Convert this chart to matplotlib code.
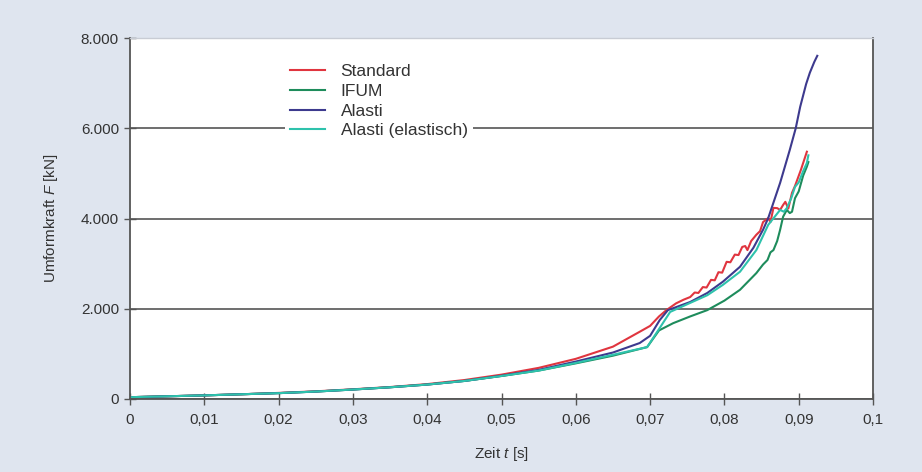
import matplotlib
matplotlib.use("Agg")
import matplotlib.pyplot as plt

plt.rcParams['font.family'] = ['Liberation Sans', 'DejaVu Sans']
plt.rcParams['mathtext.fontset'] = 'custom'
plt.rcParams['mathtext.rm'] = 'Liberation Sans'
plt.rcParams['mathtext.it'] = 'Liberation Sans:italic'

#---------------------------------------------------------------------------------------------------
# data (time in s, force in kN)

t_standard = [0, 0.005, 0.01, 0.015, 0.02, 0.025, 0.03, 0.035, 0.04, 0.045, 0.05, 0.055,
              0.06, 0.065, 0.0686, 0.07, 0.0712, 0.0722, 0.0735, 0.0745, 0.0754, 0.076,
              0.0765, 0.0771, 0.0776, 0.0782, 0.0787, 0.0792, 0.0797, 0.0803, 0.0808, 0.0814,
              0.0819, 0.0824, 0.0828, 0.0831, 0.0836, 0.0843, 0.0848, 0.0852, 0.0859, 0.0862,
              0.0866, 0.0871, 0.0875, 0.0879, 0.0882, 0.0886, 0.0891, 0.0895, 0.0903, 0.0911]
f_standard = [40, 60, 80, 105, 135, 170, 215, 265, 330, 420, 540, 690,
              890, 1160, 1490, 1620, 1830, 1970, 2120, 2200, 2260, 2360,
              2350, 2480, 2470, 2640, 2630, 2810, 2800, 3040, 3030, 3200,
              3190, 3370, 3390, 3300, 3500, 3640, 3720, 3920, 4010, 3920,
              4235, 4230, 4190, 4300, 4370, 4220, 4570, 4720, 5080, 5480]

t_ifum = [0, 0.005, 0.01, 0.015, 0.02, 0.025, 0.03, 0.035, 0.04, 0.045, 0.05, 0.055,
          0.06, 0.065, 0.0696, 0.0712, 0.0731, 0.0754, 0.0777, 0.08, 0.0821, 0.0843,
          0.0852, 0.0858, 0.0862, 0.0866, 0.0871, 0.0875, 0.0879, 0.0884, 0.0888, 0.0891,
          0.0895, 0.09, 0.0906, 0.0911, 0.0913]
f_ifum = [40, 60, 80, 105, 130, 165, 210, 260, 320, 400, 510, 630,
          790, 960, 1150, 1520, 1680, 1830, 1970, 2180, 2420, 2790,
          2980, 3080, 3250, 3300, 3500, 3750, 4040, 4190, 4120, 4150,
          4450, 4600, 4950, 5150, 5250]

t_alasti = [0, 0.005, 0.01, 0.015, 0.02, 0.025, 0.03, 0.035, 0.04, 0.045, 0.05, 0.055,
            0.06, 0.065, 0.0686, 0.07, 0.0713, 0.0724, 0.0754, 0.0777, 0.0798, 0.0821,
            0.0839, 0.0852, 0.0859, 0.0875, 0.0888, 0.0896, 0.0902, 0.091, 0.0915, 0.0921,
            0.0925]
f_alasti = [40, 60, 80, 105, 130, 165, 210, 260, 320, 400, 515, 645,
            830, 1030, 1240, 1400, 1750, 1970, 2150, 2350, 2600, 2930,
            3350, 3750, 4010, 4790, 5520, 6000, 6475, 6980, 7230, 7470,
            7605]

t_elastisch = [0, 0.005, 0.01, 0.015, 0.02, 0.025, 0.03, 0.035, 0.04, 0.045, 0.05, 0.055,
               0.06, 0.065, 0.0696, 0.0712, 0.0727, 0.0754, 0.0777, 0.0798, 0.0821, 0.0843,
               0.0859, 0.0875, 0.088, 0.0884, 0.089, 0.0895, 0.09, 0.0906, 0.0911, 0.0913]
f_elastisch = [40, 60, 80, 105, 130, 165, 210, 260, 320, 400, 510, 630,
               800, 980, 1150, 1550, 1930, 2130, 2300, 2530, 2820, 3300,
               3860, 4190, 4150, 4230, 4450, 4700, 4800, 5050, 5230, 5400]

series = [
    ("Standard", t_standard, f_standard, "#e0353f"),
    ("IFUM", t_ifum, f_ifum, "#1e8c5c"),
    ("Alasti", t_alasti, f_alasti, "#3d3a8e"),
    ("Alasti (elastisch)", t_elastisch, f_elastisch, "#2ec2ac"),
]

x_ticks = [0, 0.01, 0.02, 0.03, 0.04, 0.05, 0.06, 0.07, 0.08, 0.09, 0.1]
x_labels = ["0", "0,01", "0,02", "0,03", "0,04", "0,05", "0,06", "0,07", "0,08", "0,09", "0,1"]
y_ticks = [0, 2000, 4000, 6000, 8000]
y_labels = ["0", "2.000", "4.000", "6.000", "8.000"]


#---------------------------------------------------------------------------------------------------
def main():
    bg = "#dfe5ef"
    txt = "#333333"
    fig = plt.figure(figsize=(9.22, 4.72), dpi=100, facecolor=bg)
    ax = fig.add_axes([130 / 922, 1 - 399 / 472, 743 / 922, 361 / 472])
    ax.set_facecolor("white")

    for name, t, f, c in series:
        ax.plot(t, f, color=c, lw=1.5, label=name)

    ax.set_xlim(0, 0.1)
    ax.set_ylim(0, 8000)
    ax.set_xticks(x_ticks)
    ax.set_xticklabels(x_labels)
    ax.set_yticks(y_ticks)
    ax.set_yticklabels(y_labels)
    ax.tick_params(direction="inout", length=8, width=1, colors="#555555",
                   labelcolor=txt, labelsize=11)
    ax.tick_params(axis="x", pad=6)
    ax.tick_params(axis="y", pad=4)

    ax.yaxis.grid(True, color="#555555", lw=1.2)
    ax.set_axisbelow(True)

    for s in ("left", "bottom", "right"):
        ax.spines[s].set_color("#555555")
        ax.spines[s].set_linewidth(1.3)
    ax.spines["top"].set_color("#c8ccd4")
    ax.spines["top"].set_linewidth(1)

    ax.set_xlabel("Zeit $t$ [s]", fontsize=11, color=txt, labelpad=13)
    ax.set_ylabel("Umformkraft $F$ [kN]", fontsize=11, color=txt, labelpad=15)

    leg = ax.legend(loc="upper left", bbox_to_anchor=(0.2086, 0.942), frameon=True,
                    fontsize=12.5, handlelength=2.0, handletextpad=0.9,
                    labelspacing=0.26, borderpad=0.3, borderaxespad=0, fancybox=False)
    leg.get_frame().set_facecolor("white")
    leg.get_frame().set_edgecolor("none")
    leg.get_frame().set_alpha(1)
    for t in leg.get_texts():
        t.set_color(txt)

    fig.savefig("out.png", dpi=100, facecolor=bg)


if __name__ == "__main__":
    main()
